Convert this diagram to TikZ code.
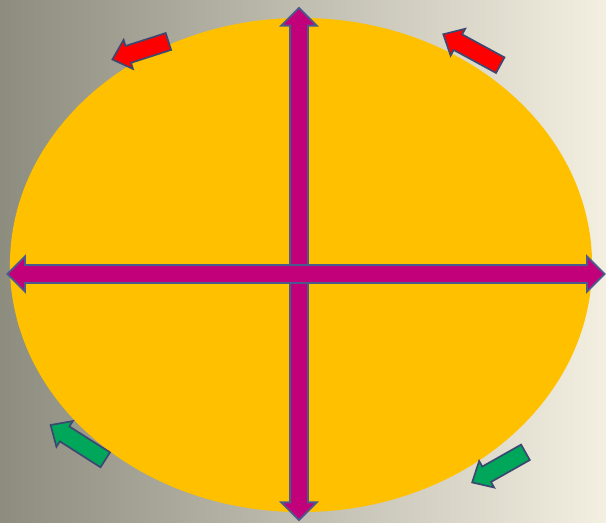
\documentclass[tikz,border=0pt]{standalone}
\usepackage{xcolor}
\usepackage{tikz}
\definecolor{bgGray}{HTML}{8C8C7F}
\definecolor{bgCream}{HTML}{F3EFE1}
\definecolor{discGold}{HTML}{FFC000}
\definecolor{axisPink}{HTML}{C2007A}
\definecolor{edgeBlue}{HTML}{4B5A8C}
\definecolor{flowRed}{HTML}{FF0000}
\definecolor{flowGreen}{HTML}{00A65A}
\usetikzlibrary{shapes.geometric,shapes.arrows}

\begin{document}
\begin{tikzpicture}[
  x=0.025cm, y=-0.025cm,
  disc/.style={
    ellipse,
    fill=discGold,
    inner sep=0pt,
    minimum width=14.55cm,
    minimum height=12.35cm
  },
  axis/.style={
    double arrow,
    draw=edgeBlue,
    fill=axisPink,
    line width=1.3pt,
    inner sep=0pt,
    inner ysep=0.2cm,
    double arrow head extend=0.22cm,
    double arrow tip angle=90,
    double arrow head indent=0pt
  },
  flow/.style={
    single arrow,
    draw=edgeBlue!80!black,
    line width=1.2pt,
    inner sep=0pt,
    inner ysep=0.2cm,
    single arrow head extend=0.16cm,
    single arrow tip angle=85,
    single arrow head indent=0pt
  }
]

% Background
\fill[left color=bgGray, right color=bgCream] (0,0) rectangle (606,522);

\node[disc] (disc) at (301,265) {};

% Axes
\node[axis, minimum height=12.8cm, rotate=90] (vertical) at (299,264) {};
\node[axis, minimum height=14.93cm] (horizontal) at (306,274) {};

% Flow arrows
\node[flow, fill=flowRed, minimum height=1.47cm, rotate=197.8] (redLeft) at (145,49) {};
\node[flow, fill=flowRed, minimum height=1.62cm, rotate=151.5] (redRight) at (476,52) {};
\node[flow, fill=flowGreen, minimum height=1.62cm, rotate=147.5] (greenLeft) at (82,445) {};
\node[flow, fill=flowGreen, minimum height=1.53cm, rotate=209.5] (greenRight) at (503,465) {};

\end{tikzpicture}
\end{document}
